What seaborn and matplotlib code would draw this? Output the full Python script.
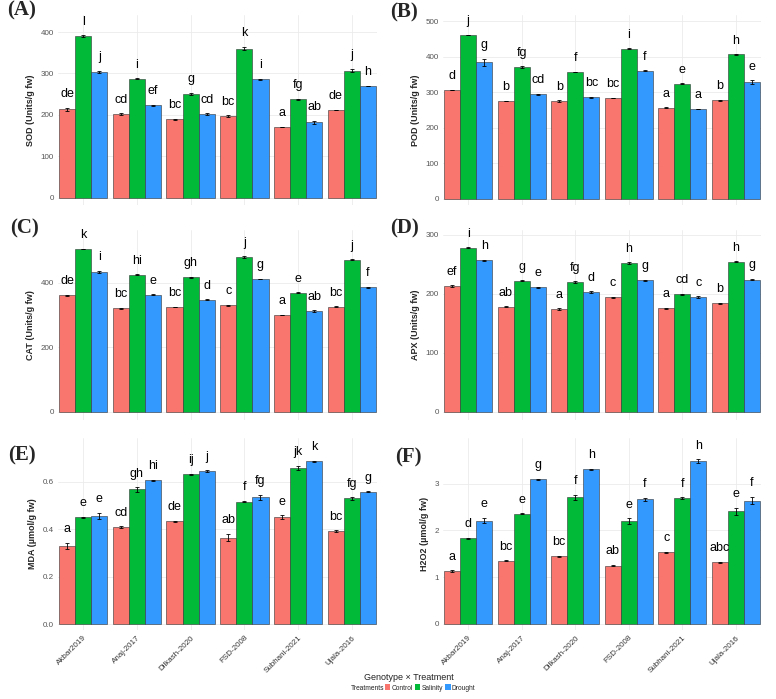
import numpy as np
import pandas as pd
import seaborn as sns
import matplotlib.pyplot as plt
from matplotlib.patches import Patch

# data
genotypes = ["Akbar2019", "Anaj-2017", "Dilkash-2020", "FSD-2008", "Subhani-2021", "Ujala-2016"]
treatments = ["Control", "Salinity", "Drought"]
colors = ["#F8766D", "#00BA38", "#3399FF"]

# each list: genotype order, Control / Salinity / Drought
sod = [[214, 390, 304], [202, 287, 223], [190, 250, 202], [197, 360, 286], [171, 238, 182], [212, 307, 270]]
sod_se = [[4, 2, 3], [2, 1, 1], [1, 3, 2], [2, 4, 1], [1, 1, 4], [1, 4, 1]]
sod_let = [["de", "l", "j"], ["cd", "i", "ef"], ["bc", "g", "cd"], ["bc", "k", "i"], ["a", "fg", "ab"], ["de", "j", "h"]]

pod = [[306, 461, 384], [275, 371, 294], [275, 357, 286], [284, 422, 361], [257, 324, 253], [277, 406, 329]]
pod_se = [[1, 1, 10], [1, 2, 1], [2, 1, 1], [1, 1, 1], [1, 1, 1], [1, 1, 5]]
pod_let = [["d", "j", "g"], ["b", "fg", "cd"], ["b", "f", "bc"], ["bc", "i", "f"], ["a", "e", "a"], ["b", "h", "e"]]

cat = [[362, 505, 434], [321, 426, 364], [325, 417, 348], [331, 480, 412], [300, 370, 313], [326, 472, 386]]
cat_se = [[2, 1, 4], [1, 1, 1], [1, 1, 1], [2, 2, 1], [1, 1, 2], [1, 1, 1]]
cat_let = [["de", "k", "i"], ["bc", "hi", "e"], ["bc", "gh", "d"], ["c", "j", "g"], ["a", "e", "ab"], ["bc", "j", "f"]]

apx = [[213, 278, 257], [178, 222, 211], [174, 220, 203], [194, 252, 223], [175, 199, 194], [184, 254, 224]]
apx_se = [[1, 1, 1], [1, 1, 1], [1, 1, 1], [1, 1, 1], [1, 1, 1.5], [1, 1, 1]]
apx_let = [["ef", "i", "h"], ["ab", "g", "e"], ["a", "fg", "d"], ["c", "h", "g"], ["a", "cd", "c"], ["b", "h", "g"]]

mda = [[0.330, 0.450, 0.457], [0.409, 0.568, 0.607], [0.433, 0.632, 0.646],
       [0.365, 0.517, 0.535], [0.451, 0.658, 0.687], [0.392, 0.530, 0.558]]
mda_se = [[0.012, 0.002, 0.012], [0.003, 0.009, 0.002], [0.003, 0.003, 0.003],
          [0.015, 0.002, 0.010], [0.008, 0.010, 0.002], [0.003, 0.005, 0.002]]
mda_let = [["a", "e", "e"], ["cd", "gh", "hi"], ["de", "ij", "j"], ["ab", "f", "fg"], ["e", "jk", "k"], ["bc", "fg", "g"]]

h2o2 = [[1.13, 1.83, 2.21], [1.35, 2.36, 3.10], [1.45, 2.71, 3.31],
        [1.25, 2.20, 2.67], [1.53, 2.69, 3.48], [1.32, 2.41, 2.64]]
h2o2_se = [[0.02, 0.02, 0.06], [0.01, 0.01, 0.01], [0.01, 0.06, 0.01],
           [0.02, 0.06, 0.03], [0.02, 0.02, 0.04], [0.01, 0.07, 0.08]]
h2o2_let = [["a", "d", "e"], ["bc", "e", "g"], ["bc", "f", "h"], ["ab", "e", "f"], ["c", "f", "h"], ["abc", "e", "f"]]

panels = [
    ("(A)", "SOD (Units/g fw)", sod, sod_se, sod_let, (-17, 441), [0, 100, 200, 300, 400], "{:.0f}"),
    ("(B)", "POD (Units/g fw)", pod, pod_se, pod_let, (-17, 517), [0, 100, 200, 300, 400, 500], "{:.0f}"),
    ("(C)", "CAT (Units/g fw)", cat, cat_se, cat_let, (-25, 564), [0, 200, 400], "{:.0f}"),
    ("(D)", "APX (Units/g fw)", apx, apx_se, apx_let, (-14, 308), [0, 100, 200, 300], "{:.0f}"),
    ("(E)", "MDA (\u00b5mol/g fw)", mda, mda_se, mda_let, (-0.025, 0.785), [0.0, 0.2, 0.4, 0.6], "{:.1f}"),
    ("(F)", "H2O2 (\u00b5mol/g fw)", h2o2, h2o2_se, h2o2_let, (-0.13, 3.98), [0, 1, 2, 3], "{:.0f}"),
]

# axes boxes in pixels: left, top, right, bottom
boxes = [(58, 15, 377, 205), (443, 15, 761, 205),
         (58, 230, 377, 420), (443, 230, 761, 420),
         (58, 438, 377, 630), (443, 438, 761, 630)]
letter_pos = [(7, 10), (390, 12), (10, 228), (390, 228), (8, 455), (395, 457)]

W, H = 776, 699
sns.set_style("white")
plt.rcParams["font.family"] = ["Liberation Sans", "DejaVu Sans"]

fig = plt.figure(figsize=(W / 100, H / 100), dpi=100)

for k, (tag, ylab, vals, ses, lets, ylim, yticks, fmt) in enumerate(panels):
    l, t, r, b = boxes[k]
    ax = fig.add_axes([l / W, 1 - b / H, (r - l) / W, (b - t) / H])
    df = pd.DataFrame({
        "Genotype": np.repeat(genotypes, 3),
        "Treatment": treatments * len(genotypes),
        "value": np.array(vals).ravel(),
    })
    sns.barplot(data=df, x="Genotype", y="value", hue="Treatment", order=genotypes,
                hue_order=treatments, palette=colors, saturation=1, width=0.9, gap=0,
                errorbar=None, edgecolor="#333333", linewidth=0.4, legend=False,
                ax=ax, zorder=2)
    span = ylim[1] - ylim[0]
    bar_groups = list(ax.containers)
    for j, cont in enumerate(bar_groups):
        for i, bar in enumerate(cont):
            xc = bar.get_x() + bar.get_width() / 2
            h = bar.get_height()
            e = ses[i][j]
            ax.errorbar(xc, h, yerr=e, fmt="none", ecolor="black", elinewidth=0.6,
                        capsize=1.5, capthick=0.6, zorder=3)
            ax.text(xc, h + e + span * 0.04, lets[i][j], ha="center", va="bottom",
                    fontsize=9, color="black", zorder=4)
    ax.set_xlim(-0.47, 5.47)
    ax.set_ylim(*ylim)
    ax.set_yticks(yticks)
    ax.set_yticklabels([fmt.format(v) for v in yticks])
    ax.set_xticks(range(len(genotypes)))
    ax.grid(True, color="#EBEBEB", linewidth=0.6, zorder=0)
    ax.set_axisbelow(True)
    for s in ax.spines.values():
        s.set_visible(False)
    ax.tick_params(axis="both", length=0, labelsize=5.8, labelcolor="#555555", pad=3)
    ax.set_ylabel(ylab, fontsize=6.5, fontweight="bold", labelpad=4)
    ax.set_xlabel("")
    if k >= 4:
        ax.set_xticklabels(genotypes, rotation=45, ha="right", rotation_mode="anchor",
                           fontsize=5.8, color="#333333")
    else:
        ax.set_xticklabels([])
    lx, ly = letter_pos[k]
    fig.text(lx / W, 1 - ly / H, tag, family="Liberation Serif", fontweight="bold",
             fontsize=15, ha="left", va="center")

fig.text(409 / W, 1 - 677 / H, "Genotype \u00d7 Treatment", ha="center", va="center",
         fontsize=6.5, color="#222222")
fig.text(384 / W, 1 - 688 / H, "Treatments", ha="right", va="center", fontsize=4.8,
         color="#222222")
handles = [Patch(facecolor=c, edgecolor="none", label=t) for c, t in zip(colors, treatments)]
fig.legend(handles=handles, loc="center left", bbox_to_anchor=(385 / W, 1 - 688 / H),
           ncol=3, frameon=False, fontsize=4.8, handlelength=0.8, handleheight=1.0,
           handletextpad=0.2, columnspacing=0.3, borderpad=0, borderaxespad=0)

fig.savefig("out.png", dpi=100)
